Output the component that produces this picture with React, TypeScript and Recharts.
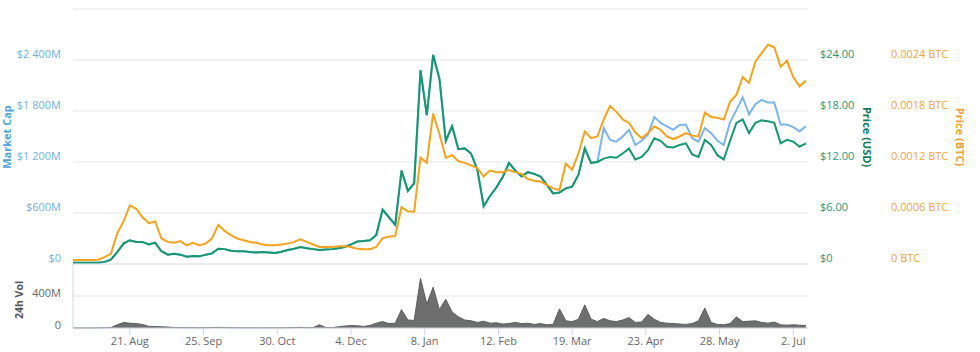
import React from 'react';
import { ComposedChart, Line, Area, XAxis, YAxis, CartesianGrid } from 'recharts';

// one point every 3 days, starting 25 Jul 2017
const startDay = Date.parse('2017-07-25');
const dayMs = 86400000;
const stepDays = 3;

const priceUsd = [
  0.15, 0.15, 0.15, 0.15, 0.16,
  0.25, 0.5, 1.4, 2.4, 2.8,
  2.6, 2.6, 2.3, 2.5, 1.5,
  1.1, 1.2, 1.1, 0.85, 0.95,
  0.9, 1.1, 1.25, 1.8, 1.75,
  1.55, 1.5, 1.5, 1.4, 1.35,
  1.4, 1.35, 1.3, 1.45, 1.65,
  1.8, 2.0, 1.85, 1.75, 1.65,
  1.7, 1.75, 1.85, 2.0, 2.3,
  2.65, 2.7, 2.8, 3.4, 6.4,
  5.5, 4.6, 11.0, 8.6, 9.5,
  22.8, 17.5, 24.6, 21.8, 14.5,
  16.2, 13.5, 13.6, 13.0, 11.1,
  6.8, 8.0, 9.0, 10.2, 11.9,
  11.0, 10.3, 10.8, 10.6, 10.3,
  9.3, 8.3, 8.4, 8.9, 9.1,
  10.5, 13.6, 11.9, 12.0, 12.4,
  12.6, 12.5, 13.0, 13.6, 12.3,
  12.6, 13.4, 14.8, 14.5, 13.8,
  13.7, 14.0, 14.2, 12.9, 12.6,
  14.6, 14.0, 12.8, 12.3, 14.5,
  16.6, 17.0, 15.4, 16.6, 16.9,
  16.8, 16.6, 14.2, 14.6, 14.4,
  13.8, 14.2,
];

const priceBtc = [
  0.000047, 0.000047, 0.000047, 0.000047, 0.00005,
  0.00008, 0.00012, 0.00036, 0.0005, 0.00069,
  0.00065, 0.00055, 0.00048, 0.0005, 0.0003,
  0.00026, 0.00025, 0.00027, 0.00022, 0.00025,
  0.00022, 0.00024, 0.0003, 0.00046, 0.00039,
  0.00034, 0.0003, 0.00028, 0.00026, 0.00025,
  0.00023, 0.00022, 0.00022, 0.00023, 0.00024,
  0.00026, 0.00029, 0.00026, 0.00023, 0.0002,
  0.0002, 0.0002, 0.00021, 0.00021, 0.0002,
  0.00018, 0.000175, 0.000175, 0.0002, 0.000305,
  0.00032, 0.00033, 0.00067, 0.00062, 0.000615,
  0.00125, 0.00119, 0.00177, 0.00153, 0.00125,
  0.00128, 0.00121, 0.00119, 0.00116, 0.00113,
  0.00103, 0.0011, 0.00108, 0.00108, 0.001105,
  0.00108, 0.00106, 0.001, 0.00098, 0.00097,
  0.00093, 0.00089, 0.00087, 0.00118, 0.00111,
  0.0013, 0.00156, 0.00148, 0.0015, 0.0017,
  0.00186, 0.00179, 0.0017, 0.00166, 0.00155,
  0.00148, 0.00154, 0.00162, 0.00158, 0.0015,
  0.00147, 0.0015, 0.00154, 0.00151, 0.0015,
  0.00178, 0.00173, 0.00172, 0.0017, 0.00191,
  0.00199, 0.0022, 0.00213, 0.00238, 0.00248,
  0.00258, 0.00255, 0.00232, 0.00239, 0.0022,
  0.00209, 0.00216,
];

// market cap in $M
const marketCap = [
  15, 15, 15, 15, 16,
  25, 50, 140, 240, 280,
  260, 260, 230, 250, 150,
  110, 120, 110, 85, 95,
  90, 110, 125, 180, 175,
  155, 150, 150, 140, 135,
  140, 135, 130, 145, 165,
  180, 200, 185, 175, 165,
  170, 175, 185, 200, 230,
  265, 270, 280, 340, 640,
  550, 460, 1100, 860, 950,
  2280, 1750, 2460, 2180, 1450,
  1620, 1350, 1360, 1300, 1110,
  680, 800, 900, 1020, 1190,
  1100, 1030, 1080, 1060, 1030,
  930, 830, 840, 890, 910,
  1050, 1360, 1190, 1200, 1600,
  1460, 1440, 1500, 1580, 1400,
  1450, 1520, 1730, 1660, 1620,
  1580, 1635, 1640, 1480, 1440,
  1600, 1540, 1450, 1400, 1670,
  1810, 1960, 1760, 1880, 1930,
  1900, 1900, 1640, 1640, 1610,
  1560, 1620,
];

// 24h volume in $M
const volume = [
  1, 1, 1, 1, 2,
  3, 5, 40, 70, 60,
  55, 45, 20, 18, 15,
  12, 6, 5, 4, 4,
  3, 4, 6, 8, 5,
  4, 3, 3, 3, 3,
  3, 3, 3, 3, 4,
  5, 8, 4, 5, 40,
  6, 4, 15, 25, 30,
  28, 20, 30, 60, 80,
  55, 60, 230, 100, 95,
  620, 300, 510, 230, 360,
  200, 140, 100, 90, 70,
  85, 60, 65, 50, 55,
  70, 55, 60, 45, 55,
  40, 45, 240, 90, 80,
  110, 290, 110, 80, 120,
  90, 80, 100, 130, 70,
  75, 170, 110, 70, 60,
  55, 50, 45, 55, 90,
  250, 70, 45, 40, 55,
  140, 80, 85, 90, 70,
  60, 75, 40, 35, 40,
  35, 30,
];

const xTickDates = ['2017-08-21', '2017-09-25', '2017-10-30', '2017-12-04', '2018-01-08', '2018-02-12', '2018-03-19', '2018-04-23', '2018-05-28', '2018-07-02'];
const xTickLabels = ['21. Aug', '25. Sep', '30. Oct', '4. Dec', '8. Jan', '12. Feb', '19. Mar', '23. Apr', '28. May', '2. Jul'];
const mcTicks = [0, 600, 1200, 1800, 2400, 3000];
const mcLabels = ['$0', '$600M', '$1 200M', '$1 800M', '$2 400M', ''];
const usdTicks = [0, 6, 12, 18, 24, 30];
const usdLabels = ['$0', '$6.00', '$12.00', '$18.00', '$24.00', ''];
const btcTicks = [0, 0.0006, 0.0012, 0.0018, 0.0024, 0.003];
const btcLabels = ['0 BTC', '0.0006 BTC', '0.0012 BTC', '0.0018 BTC', '0.0024 BTC', ''];
const volTicks = [0, 400, 800];
const volLabels = ['0', '400M', ''];

const rows = priceUsd.map((p, i) => ({
  t: startDay + i * stepDays * dayMs,
  usd: p,
  btc: priceBtc[i],
  mc: marketCap[i],
  vol: volume[i],
}));

const xTicks = xTickDates.map((d) => Date.parse(d));
const xDomain = [startDay, startDay + 349 * dayMs];

const FONT = "'Open Sans', sans-serif";
const BLUE = '#7cb5ec';
const GREEN = '#17976f';
const ORANGE = '#f5a21e';

const makeTick = (ticks: number[], labels: string[], color: string, anchor: string, dy: number) => (props: any) => {
  const idx = ticks.indexOf(props.payload.value);
  const label = idx >= 0 ? labels[idx] : '';
  return (
    <text x={props.x} y={props.y + dy} dy="0.35em" textAnchor={anchor} fill={color} fontSize={11} fontFamily={FONT}>
      {label}
    </text>
  );
};

const XTick = (props: any) => {
  const idx = xTicks.indexOf(props.payload.value);
  return (
    <text x={props.x} y={props.y} dy="0.71em" textAnchor="middle" fill="#666" fontSize={11} fontFamily={FONT}>
      {idx >= 0 ? xTickLabels[idx] : ''}
    </text>
  );
};

export default function App() {
  return (
    <div style={{ position: 'absolute', left: 0, top: 0, width: 980, height: 352, background: '#fff', fontFamily: FONT }}>
      <div style={{ position: 'absolute', left: 0, top: 0 }}>
        <ComposedChart width={980} height={266} data={rows} margin={{ top: 9, right: 0, bottom: 2, left: 0 }}>
          <CartesianGrid yAxisId="mc" vertical={false} stroke="#e6e6e6" />
          <XAxis dataKey="t" type="number" domain={xDomain} hide />
          <YAxis yAxisId="mc" orientation="left" width={73} domain={[0, 3000]} ticks={mcTicks} interval={0}
            axisLine={false} tickLine={false} tickSize={0} tickMargin={12}
            tick={makeTick(mcTicks, mcLabels, '#76aedd', 'end', -6)} />
          <YAxis yAxisId="r1usd" orientation="right" width={80} domain={[0, 30]} ticks={usdTicks} interval={0}
            axisLine={false} tickLine={false} tickSize={0} tickMargin={12}
            tick={makeTick(usdTicks, usdLabels, '#2f9478', 'start', -6)} />
          <YAxis yAxisId="r2btc" orientation="right" width={92} domain={[0, 0.003]} ticks={btcTicks} interval={0}
            axisLine={false} tickLine={false} tickSize={0} tickMargin={3}
            tick={makeTick(btcTicks, btcLabels, '#f0a53a', 'start', -6)} />
          <Line yAxisId="mc" dataKey="mc" type="linear" stroke={BLUE} strokeWidth={2} dot={false} isAnimationActive={false} />
          <Line yAxisId="r1usd" dataKey="usd" type="linear" stroke={GREEN} strokeWidth={2} dot={false} isAnimationActive={false} />
          <Line yAxisId="r2btc" dataKey="btc" type="linear" stroke={ORANGE} strokeWidth={2} dot={false} isAnimationActive={false} />
        </ComposedChart>
      </div>
      <div style={{ position: 'absolute', left: 0, top: 256 }}>
        <ComposedChart width={980} height={96} data={rows} margin={{ top: 8, right: 172, bottom: 0, left: 0 }}>
          <CartesianGrid yAxisId="v" vertical={false} stroke="#e6e6e6" />
          <XAxis dataKey="t" type="number" domain={xDomain} ticks={xTicks} interval={0} height={24}
            tickSize={7} tickMargin={2} axisLine={{ stroke: '#ccd6eb' }} tickLine={{ stroke: '#ccd6eb' }} tick={<XTick />} />
          <YAxis yAxisId="v" orientation="left" width={73} domain={[0, 800]} ticks={volTicks} interval={0}
            axisLine={{ stroke: '#ccd6eb' }} tickLine={false} tickSize={0} tickMargin={12}
            tick={makeTick(volTicks, volLabels, '#666', 'end', -3)} />
          <Area yAxisId="v" dataKey="vol" type="linear" stroke="#5e5e5e" strokeWidth={1} fill="#6e6e6e" fillOpacity={1} isAnimationActive={false} />
        </ComposedChart>
      </div>
      <svg width={980} height={352} style={{ position: 'absolute', left: 0, top: 0, pointerEvents: 'none' }}>
        <text x={6} y={137} transform="rotate(-90 6 137)" textAnchor="middle" dominantBaseline="central" fill="#4fa3dc" fontSize={11} fontWeight="bold" fontFamily={FONT}>Market Cap</text>
        <text x={19} y={300} transform="rotate(-90 19 300)" textAnchor="middle" dominantBaseline="central" fill="#555" fontSize={10.5} fontWeight="bold" fontFamily={FONT}>24h Vol</text>
        <text x={867} y={137} transform="rotate(90 867 137)" textAnchor="middle" dominantBaseline="central" fill="#137a5e" fontSize={11} fontWeight="bold" fontFamily={FONT}>Price (USD)</text>
        <text x={960} y={137} transform="rotate(90 960 137)" textAnchor="middle" dominantBaseline="central" fill="#f0a030" fontSize={11} fontWeight="bold" fontFamily={FONT}>Price (BTC)</text>
      </svg>
    </div>
  );
}
